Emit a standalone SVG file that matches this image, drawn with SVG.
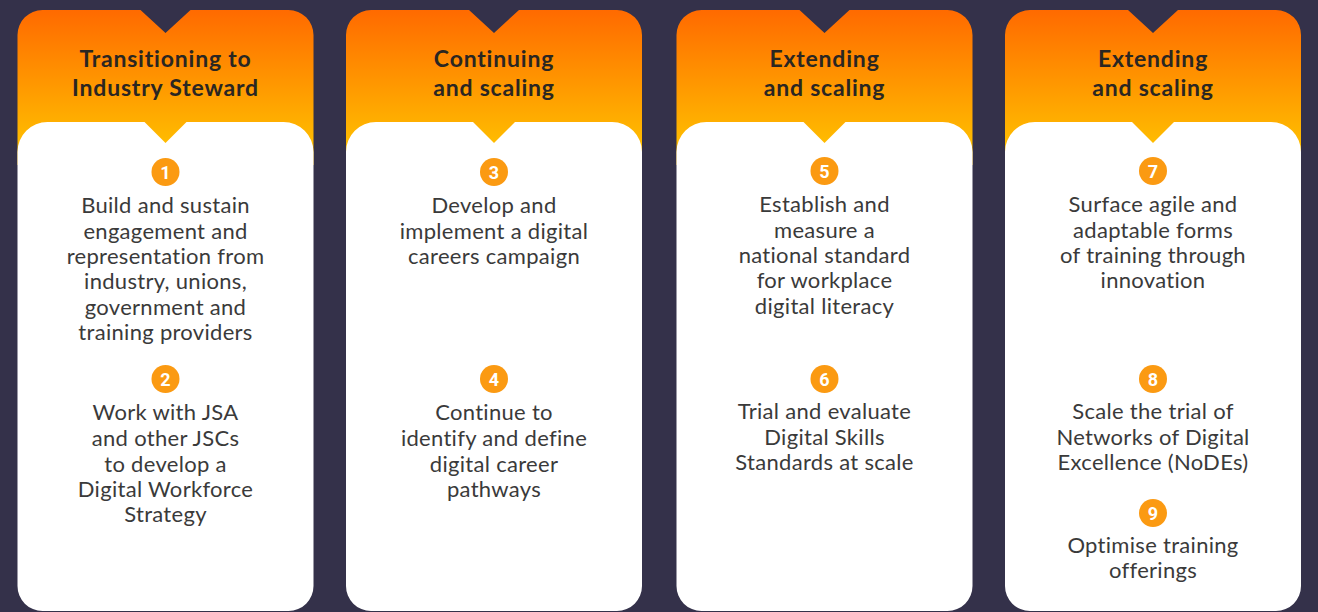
<svg xmlns="http://www.w3.org/2000/svg" width="1318" height="612" viewBox="0 0 1318 612">
<defs>
<linearGradient id="hg" x1="0" y1="10" x2="0" y2="150" gradientUnits="userSpaceOnUse">
<stop offset="0" stop-color="#ff6a00"/>
<stop offset="1" stop-color="#ffc000"/>
</linearGradient>
<path id="head" d="M -148,35 A 25 25 0 0 1 -123,10 L -25,10 L 0,33 L 25,10 L 123,10 A 25 25 0 0 1 148,35 L 148,165 L -148,165 Z" fill="url(#hg)"/>
<path id="body" d="M -148,152 A 30 30 0 0 1 -118,122 L -21,122 L 0,143 L 21,122 L 118,122 A 30 30 0 0 1 148,152 L 148,586 A 25 25 0 0 1 123,611 L -123,611 A 25 25 0 0 1 -148,586 Z" fill="#ffffff"/>
</defs>
<style>
.t{font-family:Lato,"Open Sans",sans-serif;font-weight:700;font-size:23px;letter-spacing:0.8px;fill:#2a2622;text-anchor:middle}
.b{font-family:Lato,"Open Sans",sans-serif;font-size:22px;letter-spacing:0.3px;fill:#3a3a3a;text-anchor:middle}
.n{fill:#fb9a12}
.nt{font-family:Roboto,"Liberation Sans",sans-serif;font-weight:700;font-size:18px;fill:#ffffff;text-anchor:middle}
</style>
<rect width="1318" height="612" fill="#34314a"/>

<g id="card1" transform="translate(165.5,0)">
<use href="#head"/><use href="#body"/>
<text class="t" x="0" y="67">Transitioning to</text>
<text class="t" x="0" y="96">Industry Steward</text>
<circle class="n" cx="0" cy="172" r="14"/><text class="nt" x="0" y="178.5">1</text>
<text class="b" x="0" y="213">Build and sustain</text>
<text class="b" x="0" y="239">engagement and</text>
<text class="b" x="0" y="264">representation from</text>
<text class="b" x="0" y="289">industry, unions,</text>
<text class="b" x="0" y="315">government and</text>
<text class="b" x="0" y="340">training providers</text>
<circle class="n" cx="0" cy="379" r="14"/><text class="nt" x="0" y="385.5">2</text>
<text class="b" x="0" y="420">Work with JSA</text>
<text class="b" x="0" y="446">and other JSCs</text>
<text class="b" x="0" y="472">to develop a</text>
<text class="b" x="0" y="497">Digital Workforce</text>
<text class="b" x="0" y="522">Strategy</text>
</g>

<g id="card2" transform="translate(494,0)">
<use href="#head"/><use href="#body"/>
<text class="t" x="0" y="67">Continuing</text>
<text class="t" x="0" y="96">and scaling</text>
<circle class="n" cx="0" cy="172" r="14"/><text class="nt" x="0" y="178.5">3</text>
<text class="b" x="0" y="213">Develop and</text>
<text class="b" x="0" y="239">implement a digital</text>
<text class="b" x="0" y="264">careers campaign</text>
<circle class="n" cx="0" cy="379" r="14"/><text class="nt" x="0" y="385.5">4</text>
<text class="b" x="0" y="420">Continue to</text>
<text class="b" x="0" y="446">identify and define</text>
<text class="b" x="0" y="472">digital career</text>
<text class="b" x="0" y="497">pathways</text>
</g>

<g id="card3" transform="translate(824.5,0)">
<use href="#head"/><use href="#body"/>
<text class="t" x="0" y="67">Extending</text>
<text class="t" x="0" y="96">and scaling</text>
<circle class="n" cx="0" cy="171" r="14"/><text class="nt" x="0" y="177.5">5</text>
<text class="b" x="0" y="212">Establish and</text>
<text class="b" x="0" y="238">measure a</text>
<text class="b" x="0" y="263">national standard</text>
<text class="b" x="0" y="288">for workplace</text>
<text class="b" x="0" y="314">digital literacy</text>
<circle class="n" cx="0" cy="379" r="14"/><text class="nt" x="0" y="385.5">6</text>
<text class="b" x="0" y="419">Trial and evaluate</text>
<text class="b" x="0" y="445">Digital Skills</text>
<text class="b" x="0" y="470">Standards at scale</text>
</g>

<g id="card4" transform="translate(1153,0)">
<use href="#head"/><use href="#body"/>
<text class="t" x="0" y="67">Extending</text>
<text class="t" x="0" y="96">and scaling</text>
<circle class="n" cx="0" cy="171" r="14"/><text class="nt" x="0" y="177.5">7</text>
<text class="b" x="0" y="212">Surface agile and</text>
<text class="b" x="0" y="238">adaptable forms</text>
<text class="b" x="0" y="263">of training through</text>
<text class="b" x="0" y="288">innovation</text>
<circle class="n" cx="0" cy="379" r="14"/><text class="nt" x="0" y="385.5">8</text>
<text class="b" x="0" y="419">Scale the trial of</text>
<text class="b" x="0" y="445">Networks of Digital</text>
<text class="b" x="0" y="470">Excellence (NoDEs)</text>
<circle class="n" cx="0" cy="513" r="14"/><text class="nt" x="0" y="519.5">9</text>
<text class="b" x="0" y="553">Optimise training</text>
<text class="b" x="0" y="578">offerings</text>
</g>

<g id="connectors"/>
</svg>
